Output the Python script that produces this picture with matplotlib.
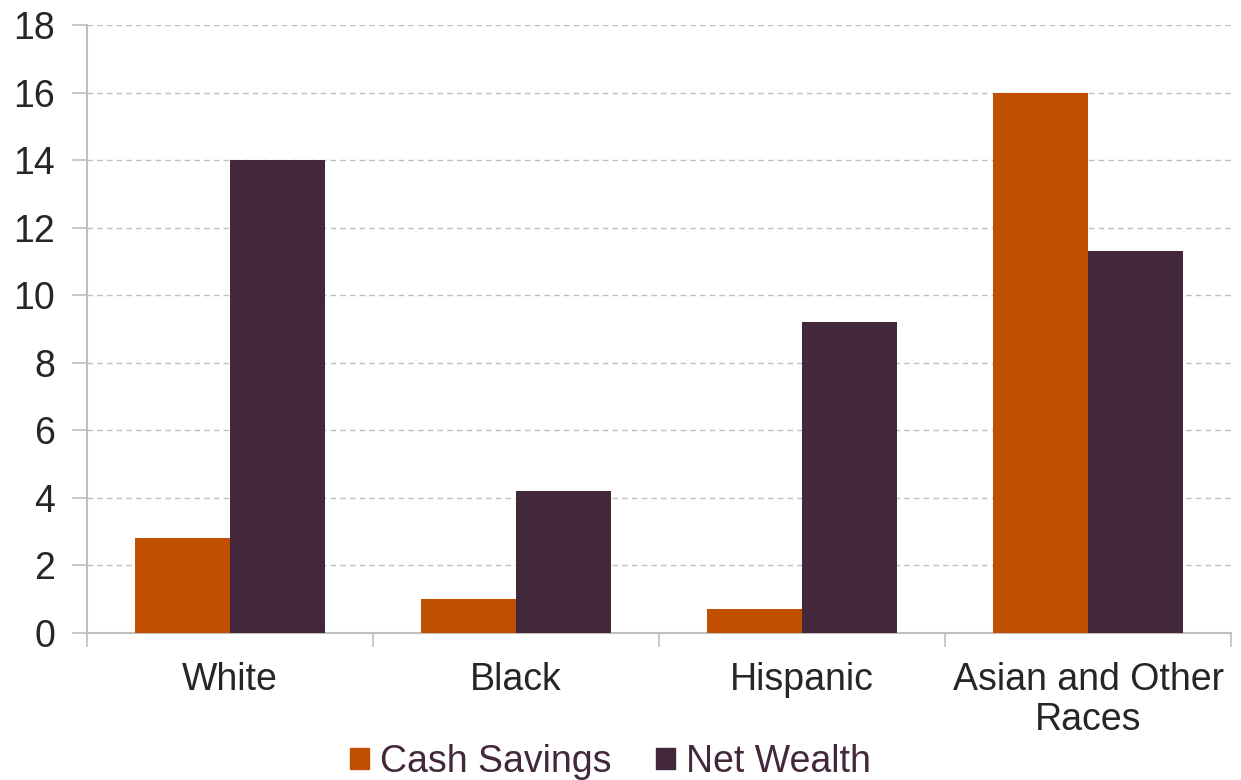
import matplotlib.pyplot as plt
import numpy as np
from matplotlib.patches import Patch

# ===== ДАНІ =====
groups = ['White', 'Black', 'Hispanic', 'Asian and Other\nRaces']
cash_savings = [2.8, 1.0, 0.7, 16.0]
net_wealth = [14.0, 4.2, 9.2, 11.3]
series_names = ['Cash Savings', 'Net Wealth']

orange = '#C04F00'
purple = '#43283B'
grid_gray = '#BFBFBF'
text_gray = '#262626'

plt.rcParams['font.family'] = ['Liberation Sans', 'DejaVu Sans']

fig = plt.figure(figsize=(12.41, 7.80), dpi=100)
ax = fig.add_axes([0.0701, 0.1885, 0.9219, 0.7795])

x = np.arange(len(groups))
w = 1 / 3
ax.bar(x - w / 2, cash_savings, w, color=orange, zorder=3)
ax.bar(x + w / 2, net_wealth, w, color=purple, zorder=3)

ax.set_xlim(-0.5, len(groups) - 0.5)
ax.set_ylim(0, 18)
ax.set_yticks(range(0, 19, 2))
ax.yaxis.grid(True, linestyle=(0, (4, 3)), color=grid_gray, linewidth=1, zorder=0)

# межі категорій - великі поділки, підписи - малі
ax.set_xticks(np.arange(-0.5, len(groups), 1))
ax.set_xticklabels([])
ax.set_xticks(x, groups, minor=True)
for lbl in ax.get_xticklabels(minor=True):
    lbl.set_linespacing(1.15)
ax.tick_params(axis='x', which='major', length=10, color=grid_gray, width=1.2)
ax.tick_params(axis='x', which='minor', length=0, pad=21, labelsize=27, labelcolor=text_gray)
ax.tick_params(axis='y', length=11, color=grid_gray, width=1.2, pad=12, labelsize=27, labelcolor=text_gray)

for s in ['top', 'right']:
    ax.spines[s].set_visible(False)
for s in ['left', 'bottom']:
    ax.spines[s].set_color(grid_gray)
    ax.spines[s].set_linewidth(1.5)

handles = [Patch(color=orange), Patch(color=purple)]
fig.legend(handles, series_names, loc='lower center', bbox_to_anchor=(0.492, -0.043),
           ncol=2, frameon=False, fontsize=27, handlelength=0.5, handleheight=0.5,
           handletextpad=0.3, columnspacing=1.2, labelcolor=purple)

plt.savefig('out.png', dpi=100)
